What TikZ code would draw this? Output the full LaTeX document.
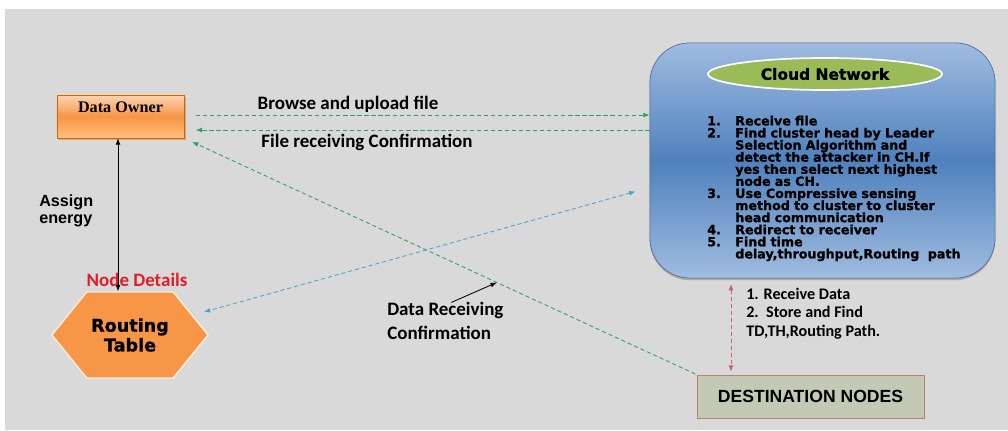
\documentclass[tikz,border=0pt]{standalone}
\usepackage{fontspec}
\setmainfont{Carlito}
\newfontfamily\heavy{DejaVu Sans}
\newfontfamily\heavier{DejaVu Sans}[FakeBold=1.2]
\newfontfamily\serifb{Liberation Serif}
\newfontfamily\arialb{Liberation Sans}
\usetikzlibrary{arrows.meta,shapes.geometric,shapes.symbols,shadows,calc}
\definecolor{bg}{RGB}{217,217,217}
\definecolor{flowgreen}{RGB}{46,160,100}
\definecolor{flowblue}{RGB}{75,165,200}
\definecolor{flowred}{RGB}{205,95,105}
\definecolor{cloudmid}{RGB}{79,129,189}
\definecolor{cloudlight}{RGB}{160,188,224}
\definecolor{leaf}{RGB}{155,187,89}
\definecolor{hexorange}{RGB}{247,150,70}
\definecolor{peach}{RGB}{251,212,180}
\definecolor{olivegray}{RGB}{196,201,182}
\definecolor{brick}{RGB}{190,125,115}
\definecolor{alert}{RGB}{225,30,40}
\newcommand\stepline[1]{\par\noindent\makebox[0.7cm][l]{#1}}
\begin{document}
\begin{tikzpicture}[x=0.025cm,y=-0.025cm,
  tip/.tip={Latex[length=4.5pt,width=3.5pt]},
  flow/.style={dash pattern=on 3pt off 2pt,line width=0.6pt},
  lbl/.style={font=\fontsize{13.5}{16.5}\selectfont\bfseries}]
  \useasboundingbox (0,0) rectangle (1008,430);
  \fill[bg] (5,9) rectangle (1008,430);

  \node[draw=orange!80!black,top color=peach,bottom color=orange!50!white,middle color=hexorange,
    minimum width=3.18cm,minimum height=1.08cm,inner ysep=0,text depth=0.45cm,
    drop shadow={shadow xshift=1.2pt,shadow yshift=-1.2pt,opacity=0.5,fill=brown},
    font=\serifb\fontsize{11.5}{13}\selectfont\bfseries] (owner) at (120.5,116.5) {Data Owner};
  \node[draw=cloudmid!75!black,rounded corners=1cm,top color=cloudlight,bottom color=cloudlight,middle color=cloudmid,
    minimum width=8.63cm,minimum height=5.88cm,
    drop shadow={shadow xshift=0pt,shadow yshift=-1.5pt,opacity=0.5}] (cloud) at (822.5,160.5) {};
  \node[ellipse,draw=white,line width=1.2pt,fill=leaf,minimum width=5.85cm,minimum height=0.8cm,
    font=\heavier\fontsize{11}{13}\selectfont\bfseries] (title) at (825,74) {Cloud Network};
  \node[anchor=north west,inner sep=0,text width=7cm,font=\heavier\fontsize{9}{8.6}\selectfont\bfseries] (steps) at (707,113) {%
    \lineskiplimit=-5pt
    \stepline{1.}Receive file
    \stepline{2.}Find cluster head by Leader
    \stepline{}Selection Algorithm and
    \stepline{}detect the attacker in CH.If
    \stepline{}yes then select next highest
    \stepline{}node as CH.
    \stepline{3.}Use Compressive sensing
    \stepline{}method to cluster to cluster
    \stepline{}head communication
    \stepline{4.}Redirect to receiver
    \stepline{5.}Find time
    \stepline{}delay,throughput,Routing\ \ path\par};
  \node[signal,signal to=east and west,signal pointer angle=102,fill=hexorange,draw=white!85!orange,line width=1pt,
    minimum width=3.9cm,minimum height=2.15cm,inner sep=0,align=center,
    font=\heavier\fontsize{12.5}{14}\selectfont\bfseries] (rt) at (130,335) {Routing\\Table};
  \node[draw=brick,fill=olivegray,minimum width=5.68cm,minimum height=1.08cm,
    font=\arialb\fontsize{12.5}{14}\selectfont\bfseries] (dest) at (810.5,396.5) {DESTINATION NODES};

  \node[lbl] (browse) at (348,104) {Browse and upload file};
  \node[lbl] (recv) at (367,142) {File receiving Confirmation};
  \node[anchor=west,align=left,inner sep=0,font=\arialb\fontsize{11.5}{12.5}\selectfont\bfseries] (energy) at (39,211) {Assign\\energy};
  \node[lbl,text=alert] (details) at (137,280) {Node Details};
  \node[lbl,anchor=west,align=left,inner sep=0] (drc) at (387,321) {Data Receiving\\Confirmation};
  \node[anchor=north west,align=left,inner sep=0,font=\fontsize{11.5}{13}\selectfont\bfseries] (store) at (746,288)
    {1. Receive Data\\2.\ \ Store and Find\\TD,TH,Routing Path.};

  \draw[flow,flowgreen,-tip,shorten <=8] (owner.east |- 0,115) -- (cloud.west |- 0,115);
  \draw[flow,flowgreen,-tip,shorten >=8] (cloud.west |- 0,130) -- (owner.east |- 0,130);
  \draw[flow,flowgreen,-tip,shorten <=1,shorten >=6] (dest.north west) -- (owner.south east)
    coordinate[pos=0.39] (hit);
  \draw[flow,flowblue,tip-tip] ($(cloud.west)+(-14,31)$) -- ($(rt.east)+(-5,-23)$);
  \draw[flow,flowred,tip-tip,shorten <=4,shorten >=2] (731,0 |- cloud.south) -- (731,0 |- dest.north);
  \draw[tip-tip,line width=0.6pt] (118,0 |- owner.south) -- (118,0 |- rt.north);
  \draw[-tip,line width=0.6pt] ([xshift=0.15cm]drc.north) -- (hit);
\end{tikzpicture}
\end{document}
